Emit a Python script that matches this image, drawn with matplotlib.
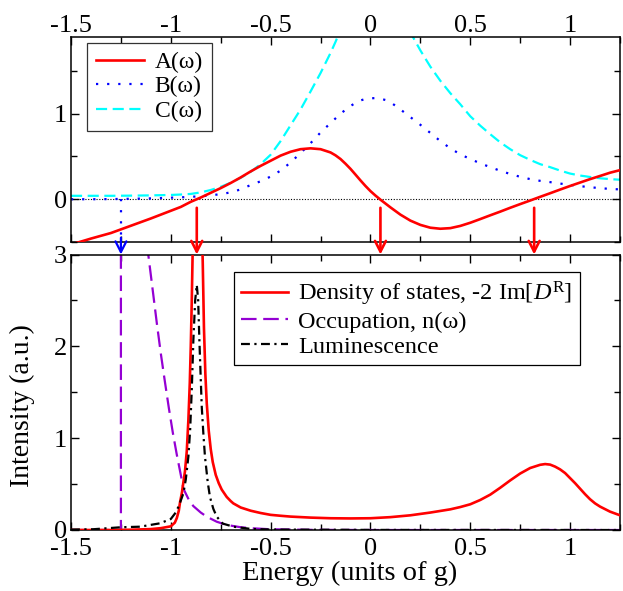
import matplotlib
matplotlib.use("Agg")
import matplotlib.pyplot as plt
from matplotlib.patches import ConnectionPatch
from matplotlib.ticker import MultipleLocator

# ---------------- data ----------------
omega_top = [-1.5, -1.4, -1.3, -1.2, -1.1, -1.0, -0.95, -0.9, -0.85, -0.8,
             -0.75, -0.7, -0.65, -0.6, -0.55, -0.5, -0.45, -0.4, -0.35, -0.3,
             -0.25, -0.2, -0.175, -0.15, -0.125, -0.1, -0.075, -0.05, -0.025, 0.0,
             0.025, 0.05, 0.075, 0.1, 0.15, 0.2, 0.25, 0.3, 0.35, 0.4,
             0.45, 0.5, 0.55, 0.6, 0.65, 0.7, 0.75, 0.8, 0.85, 0.9,
             0.95, 1.0, 1.05, 1.1, 1.15, 1.2, 1.25]
A_vals = [-0.53, -0.46, -0.395, -0.31, -0.225, -0.135, -0.09, -0.03, 0.02, 0.075,
          0.13, 0.19, 0.255, 0.325, 0.39, 0.45, 0.51, 0.555, 0.585, 0.595,
          0.585, 0.547, 0.513, 0.47, 0.415, 0.355, 0.288, 0.22, 0.155, 0.095,
          0.043, -0.005, -0.05, -0.095, -0.18, -0.25, -0.30, -0.333, -0.345, -0.338,
          -0.312, -0.275, -0.232, -0.188, -0.145, -0.10, -0.057, -0.015, 0.028, 0.07,
          0.113, 0.155, 0.195, 0.235, 0.272, 0.31, 0.34]
B_vals = [0.0, 0.0, 0.002, 0.005, 0.01, 0.018, 0.022, 0.028, 0.035, 0.045,
          0.06, 0.08, 0.115, 0.166, 0.21, 0.265, 0.335, 0.43, 0.54, 0.655,
          0.78, 0.89, 0.945, 1.0, 1.045, 1.09, 1.125, 1.155, 1.172, 1.18,
          1.182, 1.175, 1.16, 1.135, 1.05, 0.96, 0.87, 0.775, 0.68, 0.595,
          0.525, 0.47, 0.42, 0.375, 0.333, 0.295, 0.262, 0.235, 0.215, 0.2,
          0.183, 0.168, 0.153, 0.14, 0.13, 0.12, 0.115]
C_vals = [0.04, 0.04, 0.04, 0.042, 0.045, 0.05, 0.055, 0.062, 0.08, 0.108,
          0.145, 0.193, 0.25, 0.32, 0.41, 0.52, 0.68, 0.865, 1.05, 1.26,
          1.475, 1.71, 1.84, 1.98, 2.12, 2.28, 2.42, 2.55, 2.66, 2.74,
          2.77, 2.74, 2.66, 2.52, 2.23, 1.95, 1.74, 1.55, 1.385, 1.24,
          1.11, 0.97, 0.86, 0.76, 0.665, 0.585, 0.515, 0.46, 0.41, 0.375,
          0.335, 0.30, 0.277, 0.26, 0.245, 0.235, 0.228]

omega_dos = [-1.5, -1.3, -1.2, -1.1, -1.05, -1.0, -0.98, -0.97, -0.96, -0.954,
             -0.945, -0.937, -0.929, -0.92, -0.912, -0.905, -0.9, -0.895, -0.89, -0.88,
             -0.865, -0.85, -0.845, -0.84, -0.834, -0.827, -0.82, -0.81, -0.8, -0.79,
             -0.775, -0.76, -0.745, -0.72, -0.7, -0.687, -0.65, -0.6, -0.55, -0.5,
             -0.45, -0.4, -0.3, -0.2, -0.1, 0.0, 0.1, 0.2, 0.3, 0.4,
             0.45, 0.5, 0.55, 0.6, 0.65, 0.7, 0.75, 0.8, 0.85, 0.875,
             0.9, 0.925, 0.95, 0.975, 1.0, 1.025, 1.05, 1.075, 1.1, 1.125,
             1.15, 1.2, 1.25]
dos_vals = [0.0, 0.0, 0.003, 0.01, 0.02, 0.04, 0.08, 0.13, 0.21, 0.30,
            0.40, 0.52, 0.64, 0.86, 1.2, 1.6, 2.0, 2.5, 3.1, 4.3,
            5.5, 4.0, 3.4, 2.9, 2.2, 1.7, 1.38, 1.08, 0.88, 0.74,
            0.6, 0.51, 0.44, 0.36, 0.315, 0.29, 0.245, 0.21, 0.185, 0.165,
            0.155, 0.146, 0.135, 0.128, 0.126, 0.128, 0.14, 0.16, 0.19, 0.225,
            0.25, 0.28, 0.327, 0.385, 0.46, 0.54, 0.615, 0.675, 0.71, 0.718,
            0.712, 0.69, 0.66, 0.62, 0.565, 0.51, 0.45, 0.39, 0.335, 0.29,
            0.255, 0.2, 0.16]

omega_occ = [-1.5, -1.25, -1.25, -1.2, -1.15, -1.13, -1.113, -1.09, -1.07, -1.05,
             -1.03, -1.01, -0.99, -0.97, -0.95, -0.937, -0.91, -0.887, -0.85, -0.82,
             -0.77, -0.72, -0.65, -0.588, -0.5, -0.3, 0.0, 0.5, 1.0, 1.25]
occ_vals = [0.0, 0.0, 40.0, 10.0, 4.5, 3.5, 3.0, 2.6, 2.25, 1.92,
            1.62, 1.33, 1.06, 0.82, 0.6, 0.45, 0.33, 0.26, 0.19, 0.145,
            0.09, 0.055, 0.03, 0.018, 0.008, 0.002, 0.0, 0.0, 0.0, 0.0]

omega_lum = [-1.5, -1.39, -1.25, -1.154, -1.054, -1.0, -0.979, -0.96, -0.937, -0.925,
             -0.912, -0.903, -0.895, -0.887, -0.878, -0.87, -0.863, -0.857, -0.851, -0.845,
             -0.837, -0.829, -0.815, -0.804, -0.787, -0.77, -0.74, -0.687, -0.6, -0.5,
             0.0, 1.25]
lum_vals = [0.005, 0.008, 0.03, 0.036, 0.073, 0.12, 0.18, 0.26, 0.40, 0.55,
            0.80, 1.1, 1.53, 2.07, 2.5, 2.67, 2.5, 2.07, 1.7, 1.34,
            1.05, 0.80, 0.52, 0.36, 0.23, 0.145, 0.07, 0.036, 0.012, 0.005,
            0.001, 0.0]

red_arrow_x = [-0.87, 0.05, 0.82]
blue_arrow_x = -1.25

x_ticks = [-1.5, -1, -0.5, 0, 0.5, 1]
x_tick_labels = ["-1.5", "-1", "-0.5", "0", "0.5", "1"]

# ---------------- style ----------------
plt.rcParams['font.family'] = ['Liberation Serif', 'DejaVu Serif']
plt.rcParams['mathtext.fontset'] = 'custom'
plt.rcParams['mathtext.rm'] = 'Liberation Serif'
plt.rcParams['mathtext.it'] = 'Liberation Serif:italic'

RED = '#ff0000'
BLUE = '#0000ff'
CYAN = '#00ffff'
PURPLE = '#9400d3'

W, H = 623, 591
fig = plt.figure(figsize=(W / 100, H / 100), dpi=100)

def frac(x0, y0, x1, y1):
    return [x0 / W, 1 - y1 / H, (x1 - x0) / W, (y1 - y0) / H]

ax1 = fig.add_axes(frac(71, 36.7, 620, 242))
ax2 = fig.add_axes(frac(71, 254.5, 620, 530))

TICK_FS = 19
for ax in (ax1, ax2):
    ax.set_xlim(-1.5, 1.25)
    ax.xaxis.set_major_locator(MultipleLocator(0.5))
    ax.xaxis.set_minor_locator(MultipleLocator(0.25))
    ax.yaxis.set_minor_locator(MultipleLocator(0.5))
    ax.tick_params(which='both', direction='in', top=True, right=True, width=1.0)
    ax.tick_params(which='major', length=6, labelsize=TICK_FS)
    ax.tick_params(which='minor', length=4)
    ax.tick_params(axis='y', pad=3)
    for s in ax.spines.values():
        s.set_linewidth(1.1)

# top panel
ax1.set_ylim(-0.5, 1.9)
ax1.set_yticks([0, 1])
ax1.set_yticklabels(["0", "1"])
ax1.set_xticks(x_ticks)
ax1.tick_params(axis='x', labeltop=True, labelbottom=False, pad=0)
ax1.set_xticklabels(x_tick_labels)
ax1.axhline(0, color='black', lw=0.8, ls=(0, (1, 1.5)), zorder=1)
ax1.plot(omega_top, A_vals, color=RED, lw=1.9, label='A(ω)', zorder=3)
ax1.plot(omega_top, B_vals, color=BLUE, lw=1.6, ls=(0, (1, 4)), label='B(ω)', zorder=2)
ax1.plot(omega_top, C_vals, color=CYAN, lw=1.6, ls=(0, (5, 2.5)), label='C(ω)', zorder=2)
ax1.plot([blue_arrow_x, blue_arrow_x], [0, -0.5], color=BLUE, lw=1.6, ls=(0, (1, 4)), zorder=2)
leg1 = ax1.legend(loc='upper left', bbox_to_anchor=(0.03, 0.971), borderaxespad=0,
                  fancybox=False, edgecolor='#333333', fontsize=17, handlelength=2.0,
                  labelspacing=0.12, borderpad=0.38, handletextpad=0.47, framealpha=1)
leg1.get_frame().set_linewidth(0.9)

# bottom panel
ax2.set_ylim(0, 3)
ax2.set_yticks([0, 1, 2, 3])
ax2.set_xticks(x_ticks)
ax2.set_xticklabels(x_tick_labels)
ax2.tick_params(axis='x', pad=6)
ax2.plot(omega_dos, dos_vals, color=RED, lw=1.9, zorder=3,
         label=r'Density of states, -2 Im[$D^{\mathrm{R}}$]')
ax2.plot(omega_occ, occ_vals, color=PURPLE, lw=1.6, ls=(0, (7, 3)), zorder=2,
         label='Occupation, n(ω)')
ax2.plot(omega_lum, lum_vals, color='black', lw=1.6, ls=(0, (4, 2, 1, 2)), zorder=4,
         label='Luminescence')
leg2 = ax2.legend(loc='upper left', bbox_to_anchor=(0.297, 0.935), borderaxespad=0,
                  fancybox=False, edgecolor='black', fontsize=17.5, handlelength=1.9,
                  labelspacing=0.12, borderpad=0.3, handletextpad=0.45, framealpha=1)
leg2.get_frame().set_linewidth(0.9)

ax2.set_xlabel('Energy (units of g)', fontsize=20.5)
ax2.xaxis.set_label_coords(0.507, -0.111)
ax2.set_ylabel('Intensity (a.u.)', fontsize=20)
ax2.yaxis.set_label_coords(-0.066, 0.45)

# arrows between the panels
for xa in red_arrow_x:
    cp = ConnectionPatch(xyA=(xa, -0.1), coordsA=ax1.transData,
                         xyB=(xa, 3.0), coordsB=ax2.transData,
                         arrowstyle='->,head_length=0.55,head_width=0.28',
                         mutation_scale=14, color=RED, lw=1.9, shrinkA=0, shrinkB=0)
    fig.add_artist(cp)
cpb = ConnectionPatch(xyA=(blue_arrow_x, -0.45), coordsA=ax1.transData,
                      xyB=(blue_arrow_x, 3.0), coordsB=ax2.transData,
                      arrowstyle='->,head_length=0.55,head_width=0.28',
                      mutation_scale=14, color=BLUE, lw=1.6, shrinkA=0, shrinkB=0)
fig.add_artist(cpb)

fig.savefig('out.png', dpi=100)
